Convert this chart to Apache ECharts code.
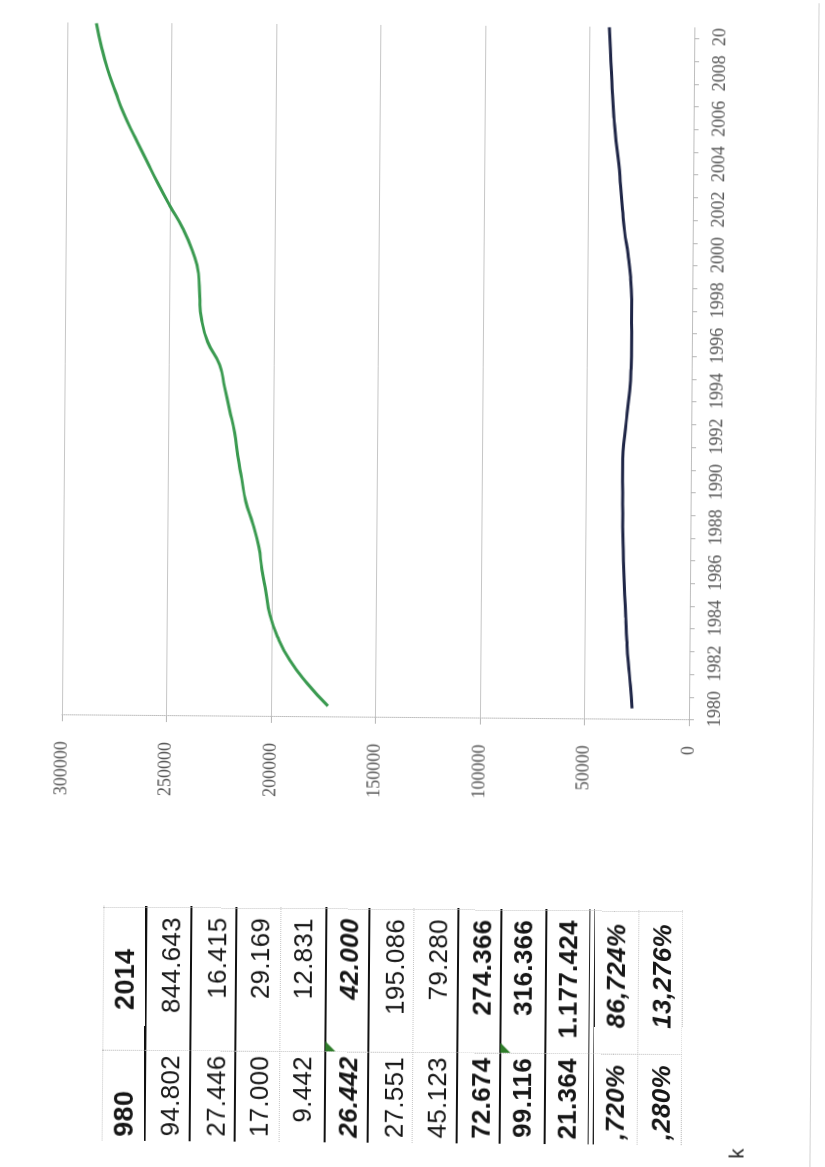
<!DOCTYPE html>
<html>
<head>
<meta charset="utf-8">
<script src="https://cdn.jsdelivr.net/npm/echarts@6/dist/echarts.min.js"></script>
<style>
html,body{margin:0;padding:0;width:825px;height:1167px;overflow:hidden;background:#fff;}
#page{position:absolute;left:0;top:0;width:825px;height:1167px;transform-origin:412px 583px;transform:rotate(0.45deg);}
#frame{position:absolute;left:0;top:0;width:1167px;height:825px;transform-origin:0 0;transform:translate(0px,1167px) rotate(-90deg);}
#clip{position:absolute;left:0;top:0;width:1142px;height:825px;overflow:hidden;}
#chart{position:absolute;left:0;top:0;width:1167px;height:825px;}
.cell{position:absolute;width:220px;height:26px;line-height:26px;text-align:right;font-family:'Liberation Sans',Arial,sans-serif;font-size:26px;color:#161616;white-space:nowrap;letter-spacing:0.3px;}
.hline{position:absolute;left:24px;width:235px;}
.thick{height:2.6px;background:#111;}
.thin{height:1.6px;background:#222;}
.faint{height:0;border-top:1px dotted #c4c4c4;}
.vfaint{position:absolute;width:0;border-left:1px dotted #c4c4c4;}
.tri{position:absolute;width:10px;height:10px;background:#2f7d2a;clip-path:polygon(0 0,100% 0,0 100%);}
#edge{position:absolute;left:0;top:814px;width:1167px;height:0;border-top:1px solid #d2d2d2;}
#kk{position:absolute;left:11px;top:731px;font-family:'Liberation Sans',Arial,sans-serif;font-size:20px;line-height:20px;color:#222;}
</style>
</head>
<body>
<div id="page">
  <div id="frame">
    <div id="clip"><div id="chart"></div></div>
    <div id="table"></div>
    <div id="edge"></div>
    <div id="kk">k</div>
  </div>
</div>
<script>
// ---- chart data ----
const years = ['1980','1981','1982','1983','1984','1985','1986','1987','1988','1989',
               '1990','1991','1992','1993','1994','1995','1996','1997','1998','1999',
               '2000','2001','2002','2003','2004','2005','2006','2007','2008','2009','2010'];
const greenSeries = [172800,182900,191200,197000,200900,202900,204900,206500,209400,212900,
                     214900,216900,218400,220900,223400,225900,231700,234700,235700,236300,
                     239300,244100,250400,256300,261800,267300,272600,276800,280700,283700,286100];
const navySeries = [27300,28100,29200,30000,30600,31200,31700,32100,32400,32500,
                    32600,32700,31800,30700,29600,29000,28800,28900,29000,29600,
                    30900,32600,33700,34700,35600,37100,38100,38900,39500,40100,40700];
const valueMin = 0;
const valueMax = 300000;
const valueStep = 50000;

// ---- table texts ----
const tableHeader = ['980', '2014'];
const col1980 = ['94.802','27.446','17.000','9.442','26.442','27.551','45.123','72.674','99.116','21.364',',720%',',280%'];
const col2014 = ['844.643','16.415','29.169','12.831','42.000','195.086','79.280','274.366','316.366','1.177.424','86,724%','13,276%'];
const boldRows = [4,7,8,9,10,11];
const italicRows = [4,10,11];

// ---- table layout (original page frame) ----
const rowCenters = [174,219.5,262.5,305.5,351.5,397.5,441,484.5,526,571,618.5,664.5];
const headerCenter = 127.5;
const thickLines = [148.5,193.5,238.5,328.5,371.5,460.5,503.5,548.5];
const doubleLines = [592.5,597.5];
const faintLines = [106.5,283.5,416.5,641.5,685.5];
const triRows = [4,8];

const tbl = document.getElementById('table');
function addCell(text, right, center, bold, italic, size){
  const d = document.createElement('div');
  d.className = 'cell';
  d.textContent = text;
  d.style.left = (right - 220) + 'px';
  d.style.top = (center - 13) + 'px';
  if (bold) d.style.fontWeight = 'bold';
  if (italic) d.style.fontStyle = 'italic';
  if (size) d.style.fontSize = size + 'px';
  tbl.appendChild(d);
}
function addH(cls, v){
  const d = document.createElement('div');
  d.className = 'hline ' + cls;
  d.style.top = (v - 1) + 'px';
  tbl.appendChild(d);
}
// header
addCell(tableHeader[0], 74, headerCenter, true, false, 27);
(function(){
  const d = document.createElement('div');
  d.className = 'cell';
  d.textContent = tableHeader[1];
  d.style.width = '220px';
  d.style.textAlign = 'center';
  d.style.left = (185.5 - 110) + 'px';
  d.style.top = (headerCenter - 13) + 'px';
  d.style.fontWeight = 'bold';
  d.style.fontSize = '27px';
  tbl.appendChild(d);
})();
for (let i = 0; i < col1980.length; i++) {
  const b = boldRows.indexOf(i) >= 0, it = italicRows.indexOf(i) >= 0;
  const r1 = (i >= 10) ? 104 : 110;
  addCell(col1980[i], r1, rowCenters[i], b, it);
  addCell(col2014[i], (i >= 10) ? 245 : 248, rowCenters[i], b, it);
}
thickLines.forEach(v => addH('thick', v));
doubleLines.forEach(v => addH('thin', v));
faintLines.forEach(v => addH('faint', v));
[114, 257].forEach(u => {
  const d = document.createElement('div');
  d.className = 'vfaint';
  d.style.left = u + 'px';
  d.style.top = '106px';
  d.style.height = '580px';
  tbl.appendChild(d);
});
triRows.forEach(i => {
  const d = document.createElement('div');
  d.className = 'tri';
  const top = thickLines.concat(faintLines).filter(v => v < rowCenters[i]).sort((a,b)=>b-a)[0];
  d.style.left = '115px';
  d.style.top = (top + 0.5) + 'px';
  tbl.appendChild(d);
});

// ---- chart ----
const chart = echarts.init(document.getElementById('chart'), null, {renderer: 'canvas'});
chart.setOption({
  animation: false,
  backgroundColor: 'transparent',
  grid: {left: 449, top: 63, width: 703.7, height: 627, outerBoundsMode: 'none', containLabel: false},
  xAxis: {
    type: 'category',
    data: years,
    boundaryGap: true,
    axisLine: {show: true, lineStyle: {color: '#bdbdbd', width: 1, type: 'dotted'}},
    axisTick: {show: true, interval: 0, length: 5, lineStyle: {color: '#b5b5b5'}},
    axisLabel: {interval: 1, margin: 17, fontFamily: 'Liberation Serif', fontSize: 18, color: '#555'},
    splitLine: {show: false}
  },
  yAxis: {
    type: 'value',
    min: valueMin,
    max: valueMax,
    interval: valueStep,
    axisLine: {show: true, lineStyle: {color: '#bdbdbd', width: 1, type: 'dotted'}},
    axisTick: {show: true, length: 6, lineStyle: {color: '#b5b5b5'}},
    axisLabel: {margin: 26, fontFamily: 'Liberation Serif', fontSize: 18, color: '#555', formatter: v => String(v)},
    splitLine: {show: true, lineStyle: {color: '#c6c6c6', width: 1}}
  },
  series: [
    {type: 'line', data: navySeries, smooth: true, showSymbol: false, symbol: 'none',
     lineStyle: {color: '#1f2647', width: 3}, itemStyle: {color: '#1f2647'}},
    {type: 'line', data: greenSeries, smooth: true, showSymbol: false, symbol: 'none',
     lineStyle: {color: '#3a9a50', width: 3}, itemStyle: {color: '#3a9a50'}}
  ]
});
</script>
</body>
</html>
